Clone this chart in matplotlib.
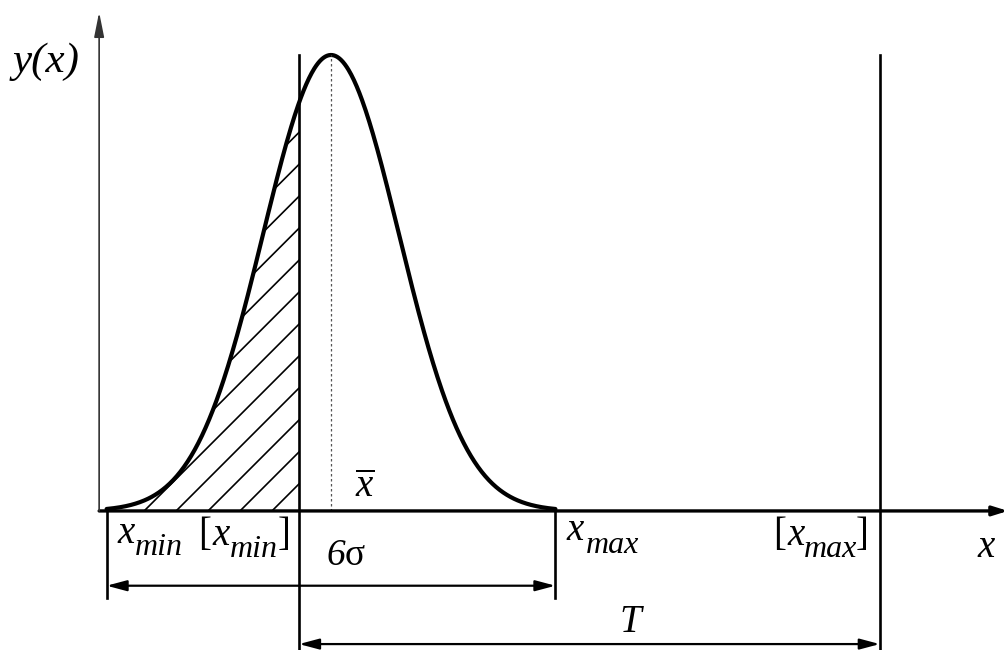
import numpy as np
import matplotlib
matplotlib.use("Agg")
import matplotlib.pyplot as plt

# normal law, in units of sigma around the mean; peak height = 1
mean = 0.0
sigma = 1.0
x_min = -3.3
x_max = 3.3
x_min_allowed = -0.47   # [x_min]
x_max_allowed = 8.07    # [x_max]

# hatch line offsets along the baseline (sigma units)
hatch_step = 0.47
hatch_first = -0.868

FONT = "Liberation Serif"
plt.rcParams["mathtext.fontset"] = "custom"
plt.rcParams["mathtext.rm"] = FONT
plt.rcParams["mathtext.it"] = FONT + ":italic"


def density(x):
    return np.exp(-0.5 * ((x - mean) / sigma) ** 2)


def label(ax, x, y, s, size, style="italic"):
    ax.text(x, y, s, fontsize=size, family=FONT, style=style,
            ha="left", va="baseline", color="black")


def main():
    fig = plt.figure(figsize=(10.08, 6.5), dpi=100)
    ax = fig.add_axes([0, 0, 1, 1])
    ax.set_xlim(-4.868, 9.956)
    ax.set_ylim(-0.305, 1.1206)
    ax.axis("off")

    xs = np.linspace(x_min, x_max, 500)
    ys = density(xs)

    # hatched tail left of [x_min]
    xl = np.linspace(x_min, x_min_allowed, 300)
    poly = ax.fill_between(xl, 0, density(xl), facecolor="none", edgecolor="none")
    clip = poly.get_paths()[0]
    ratio = 68 / 456  # slope for 45 degrees on screen
    for k in range(-2, 12):
        c = hatch_first - k * hatch_step
        hx = np.array([c, c + 1.2 / ratio])
        hl, = ax.plot(hx, (hx - c) * ratio, color="black", lw=1.2)
        hl.set_clip_path(clip, ax.transData)

    # curve
    ax.plot(xs, ys, color="black", lw=3.0, solid_capstyle="round")

    # mean
    ax.plot([mean, mean], [0, 1.0], color="#555555", lw=0.9, ls=(0, (2, 2)))

    # axes
    ax.annotate("", xy=(9.956, 0), xytext=(-3.41, 0),
                arrowprops=dict(arrowstyle="-|>,head_length=0.45,head_width=0.14",
                                mutation_scale=20, lw=2.4, color="black",
                                shrinkA=0, shrinkB=0))
    ax.annotate("", xy=(-3.41, 1.094), xytext=(-3.41, 0),
                arrowprops=dict(arrowstyle="-|>,head_length=0.75,head_width=0.15",
                                mutation_scale=20, lw=1.2, color="#333333",
                                shrinkA=0, shrinkB=0))

    # limit lines and ticks
    ax.plot([x_min_allowed] * 2, [1.0, -0.305], color="black", lw=1.9)
    ax.plot([x_max_allowed] * 2, [1.0, -0.305], color="black", lw=1.9)
    ax.plot([x_min] * 2, [0, -0.191], color="black", lw=1.9)
    ax.plot([x_max] * 2, [0, -0.191], color="black", lw=1.9)

    # dimension arrows
    style = "<|-|>,head_length=0.6,head_width=0.16"
    ax.annotate("", xy=(x_max, -0.164), xytext=(x_min, -0.164),
                arrowprops=dict(arrowstyle=style, mutation_scale=20, lw=1.6,
                                color="black", shrinkA=0, shrinkB=0))
    ax.annotate("", xy=(x_max_allowed, -0.292), xytext=(x_min_allowed, -0.292),
                arrowprops=dict(arrowstyle=style, mutation_scale=20, lw=1.6,
                                color="black", shrinkA=0, shrinkB=0))

    # text
    ax.text(-4.68, 0.985, "y(x)", fontsize=31, family=FONT, style="italic",
            ha="left", va="center")
    label(ax, -3.147, -0.070, "x", 28)
    label(ax, -2.88, -0.097, "min", 23)
    label(ax, -1.956, -0.075, "[", 28, "normal")
    label(ax, -1.75, -0.075, "x", 28)
    label(ax, -1.485, -0.101, "min", 23)
    label(ax, -0.78, -0.075, "]", 28, "normal")
    label(ax, -0.06, -0.118, "6", 27)
    label(ax, 0.2, -0.118, "σ", 27, "normal")
    ax.text(0.353, 0.0307, r"$\overline{x}$", fontsize=28, ha="left", va="baseline")
    label(ax, 3.47, -0.064, "x", 28)
    label(ax, 3.75, -0.092, "max", 23)
    label(ax, 6.5, -0.075, "[", 28, "normal")
    label(ax, 6.706, -0.075, "x", 28)
    label(ax, 6.956, -0.101, "max", 23)
    label(ax, 7.72, -0.075, "]", 28, "normal")
    label(ax, 9.5, -0.101, "x", 28)
    label(ax, 4.235, -0.265, "T", 28)

    fig.savefig("out.png", dpi=100)


if __name__ == "__main__":
    main()
